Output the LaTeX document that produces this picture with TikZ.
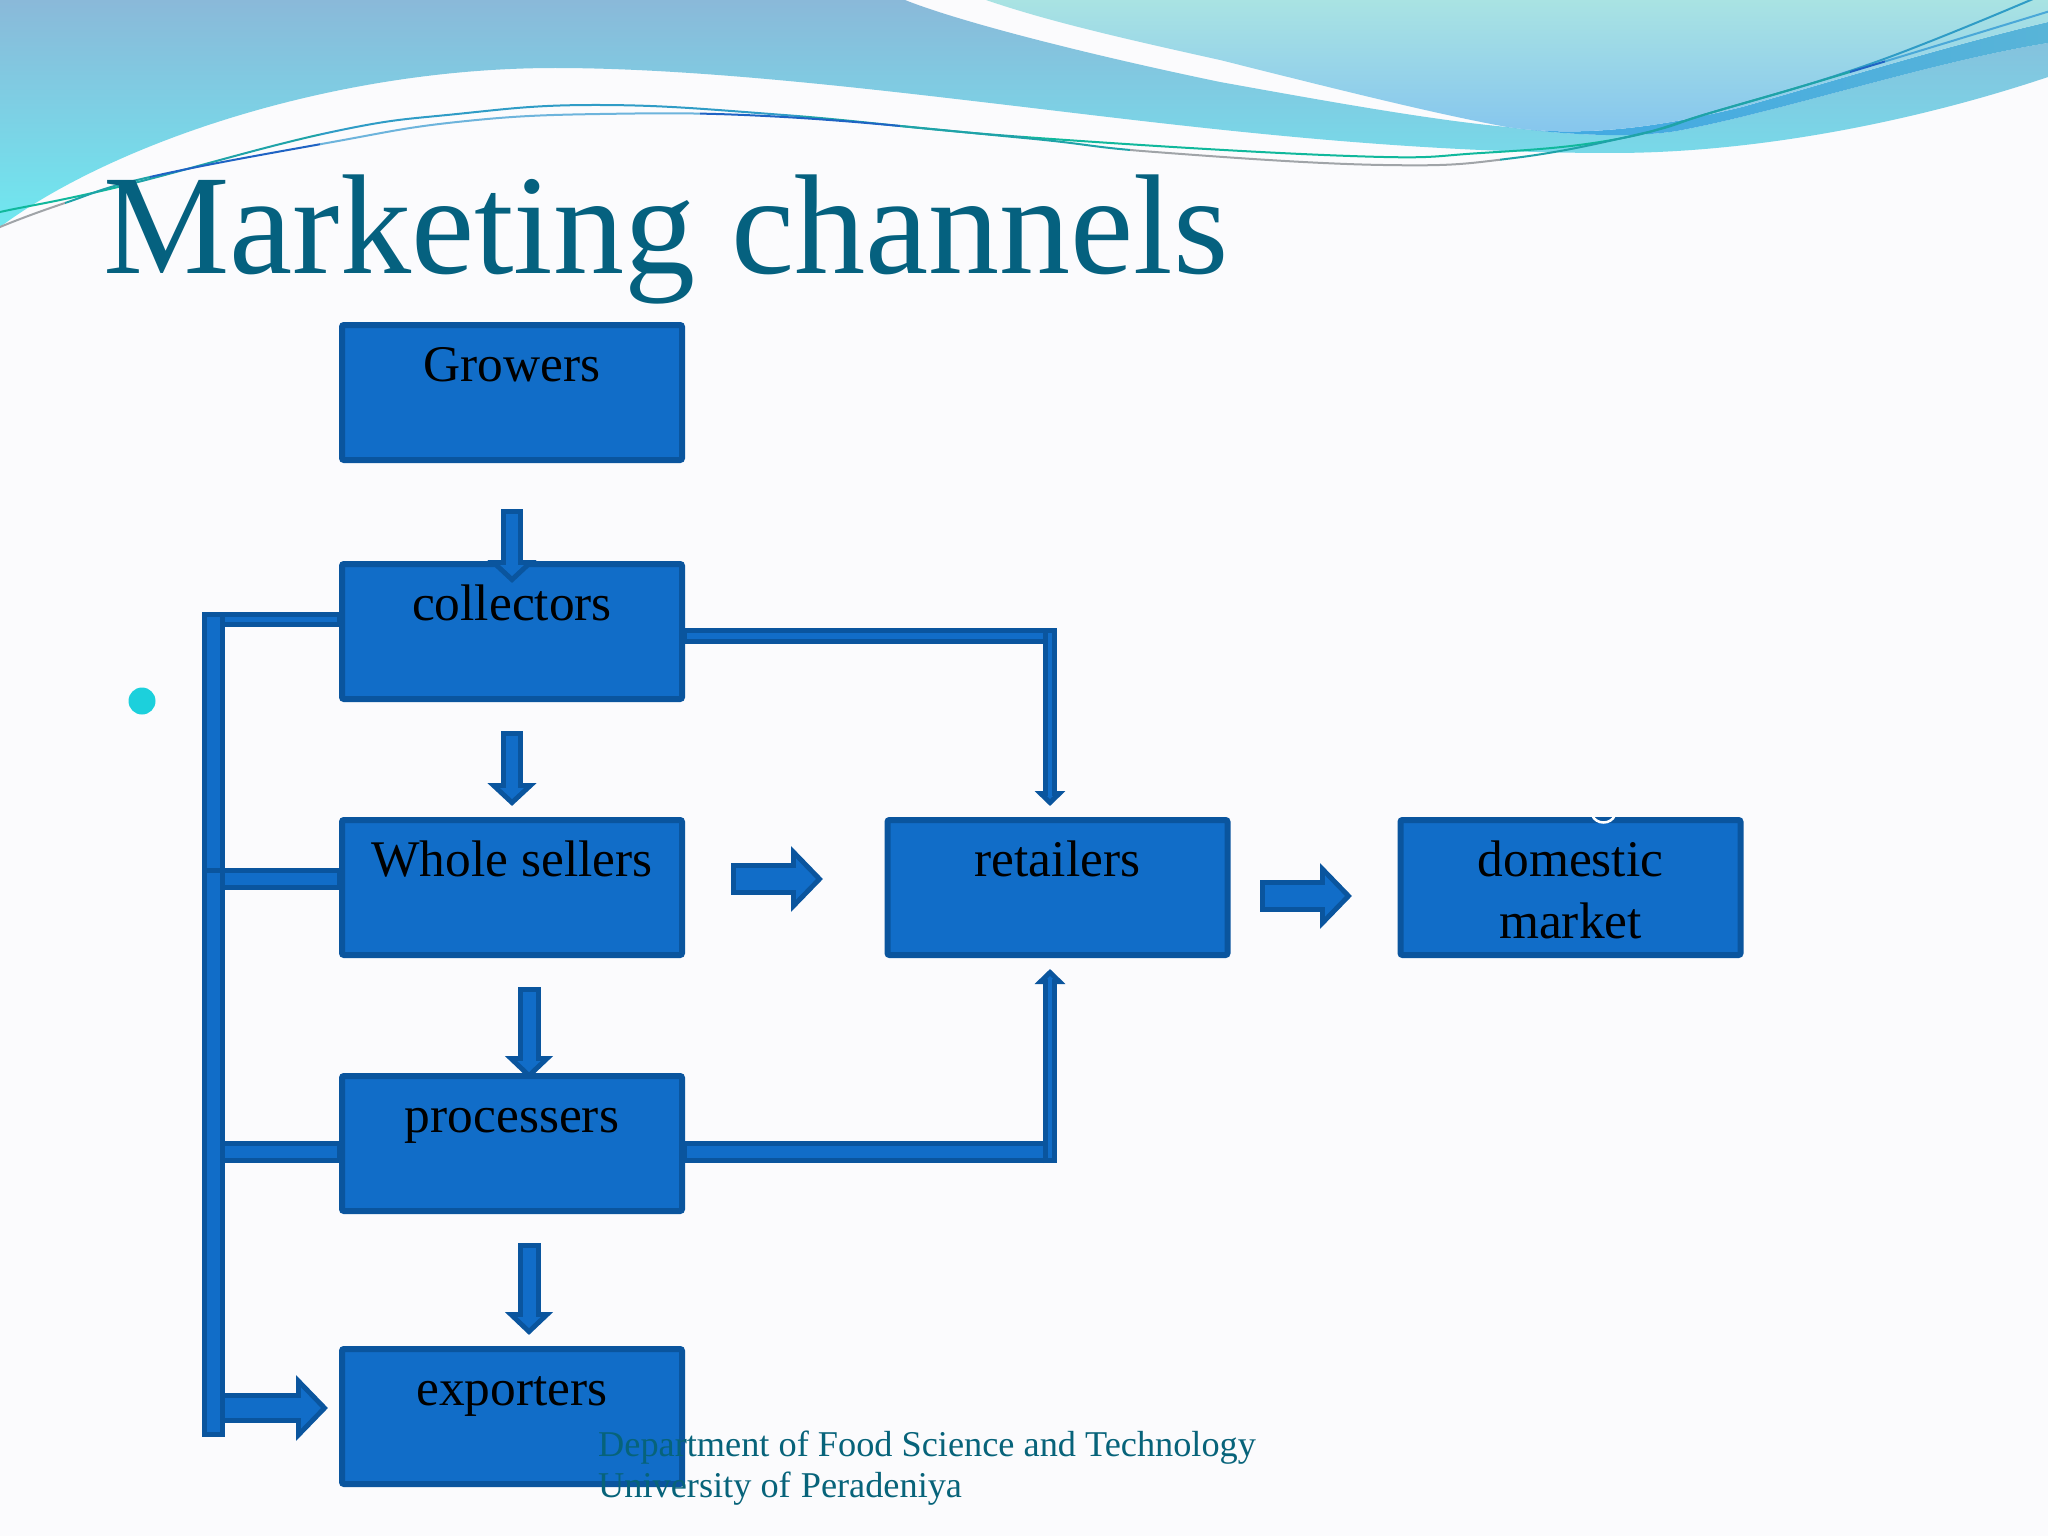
\documentclass[tikz,border=0pt]{standalone}
\usepackage{fontspec}
\setmainfont{Liberation Serif}
\usetikzlibrary{arrows.meta}
\definecolor{pagebg}{HTML}{FBFBFD}
\definecolor{boxfill}{HTML}{116DC8}
\definecolor{boxline}{HTML}{0A559E}
\definecolor{titlecol}{HTML}{05617F}
\definecolor{footcol}{HTML}{07637A}
\definecolor{bulletcol}{HTML}{1CD0DC}
\definecolor{lg}{HTML}{10B89C}
\definecolor{lt}{HTML}{1FA3A8}
\definecolor{lb}{HTML}{2F9CC6}
\definecolor{ld}{HTML}{1F63C4}
\definecolor{ll}{HTML}{6DB4DC}
\definecolor{lgr}{HTML}{A0A4A8}
\definecolor{lm}{HTML}{4AA8D8}
\definecolor{bandtop}{HTML}{8AB9D9}
\definecolor{bandbot}{HTML}{6FE8F0}
\definecolor{lobetop}{HTML}{A9E3E3}
\definecolor{lobebot}{HTML}{85C5EE}
\definecolor{stripl}{HTML}{3FA8E4}
\definecolor{stripr}{HTML}{58B4D8}
\tikzset{
  box/.style={draw=boxline,fill=boxfill,line width=6pt,rounded corners=2pt,
    minimum width=340pt,minimum height=135pt,inner sep=0pt,outer sep=0pt,
    font=\fontsize{51.4}{62}\selectfont,text=black},
  wave/.style={smooth,tension=0.7},
  footer/.style={anchor=base west,inner sep=0pt,text=footcol,font=\fontsize{36.3}{36.3}\selectfont},
}
% block arrow: border, shaft width, head width, head length, path
\newcommand{\blk}[5]{%
  \pgfmathsetmacro{\sina}{sin(atan((#3/2)/#4))}%
  \pgfmathsetmacro{\sh}{#1/\sina}%
  \pgfmathsetmacro{\la}{max(#4-#1-\sh,1)}%
  \pgfmathsetmacro{\wa}{\la*#3/#4}%
  \pgfmathsetmacro{\iw}{#2-2*#1}%
  \draw[line width=#2pt,draw=boxline,-{Triangle[length=#4pt,width=#3pt]}] #5;
  \draw[line width=\iw pt,draw=boxfill,shorten <=#1pt,shorten >=\sh pt,-{Triangle[length=\la pt,width=\wa pt]}] #5;
}
% plain bar: border, width, path
\newcommand{\plainbar}[3]{%
  \pgfmathsetmacro{\iw}{#2-2*#1}%
  \draw[line width=#2pt,draw=boxline] #3;
  \draw[line width=\iw pt,draw=boxfill,shorten <=#1pt,shorten >=#1pt] #3;
}
\newcommand{\boxtext}[1]{\parbox[c][135pt][t]{340pt}{\centering\rule{0pt}{56pt}#1}}
\newcommand{\lineA}{plot[wave] coordinates {(-10,216)(0,212)(118,187)(327,133)(457,114)(600,105)(784,115)(1024,137)(1350,156)(1481,153)(1612,140)(1710,113)(1873,63)(2040,-4)}}
\newcommand{\lineB}{plot[wave] coordinates {(-10,234)(0,227)(65,203)(150,177)(327,143)(457,122)(600,114)(784,117)(1024,138)(1155,152)(1383,165)(1514,158)(1644,133)(1710,113)(1840,75)(2060,8)}}
\begin{document}
\begin{tikzpicture}[x=1pt,y=-1pt]
\useasboundingbox (0,0) rectangle (2048,1536);
\fill[pagebg] (0,0) rectangle (2048,1536);
% wave band
\path[top color=bandtop,bottom color=bandbot]
  (0,0) -- (905,0) .. controls (960,22) and (1090,55) .. (1220,82)
  .. controls (1320,100) and (1430,120) .. (1507,127)
  .. controls (1580,137) and (1640,137) .. (1677,131)
  .. controls (1780,112) and (1930,62) .. (2048,43)
  -- (2048,77) .. controls (1920,120) and (1760,153) .. (1612,153)
  .. controls (1400,153) and (1200,128) .. (1024,107)
  .. controls (880,90) and (700,68) .. (555,68)
  .. controls (330,68) and (110,145) .. (0,227) -- cycle;
% darker strip
\path[left color=stripl,right color=stripr]
  (1507,127) .. controls (1570,136) and (1640,132) .. (1742,107)
  .. controls (1830,82) and (1950,45) .. (2048,22)
  -- (2048,43) .. controls (1930,62) and (1780,112) .. (1677,131)
  .. controls (1640,137) and (1580,137) .. (1507,127) -- cycle;
% top lobe
\path[top color=lobetop,bottom color=lobebot]
  (986,0) .. controls (1050,22) and (1130,40) .. (1220,60)
  .. controls (1320,85) and (1430,113) .. (1507,127)
  .. controls (1570,136) and (1640,132) .. (1742,107)
  .. controls (1830,82) and (1950,45) .. (2048,22)
  -- (2048,0) -- cycle;
% thin lines, coloured in stretches
\foreach \a/\b/\c in {-10/118/lg,118/320/lt,320/800/lb,800/1024/lt,1024/1620/lg,1620/1800/lt,1800/2050/lb}{
  \begin{scope}\clip (\a,-10) rectangle (\b,300);
  \draw[\c,line width=2pt] \lineA;
  \end{scope}}
\foreach \a/\b/\c in {-10/65/lgr,65/150/lt,150/320/ld,320/700/ll,700/900/ld,900/1130/lt,1130/1500/lgr,1500/1680/lt,1680/1850/lt,1850/1885/ld,1885/2050/lm}{
  \begin{scope}\clip (\a,-10) rectangle (\b,300);
  \draw[\c,line width=2pt] \lineB;
  \end{scope}}
% title
\node[anchor=base west,inner sep=0pt,text=titlecol,font=\fontsize{142.2}{142.2}\selectfont] (title) at (103,273) {Marketing channels};
% bullet
\fill[bulletcol] (142,701) circle (13.5);
% boxes
\node[box] (growers)    at (512,392.5)  {\boxtext{Growers}};
\node[box] (collectors) at (512,631.5)  {\boxtext{collectors}};
\node[box] (sellers)    at (512,887.5)  {\boxtext{Whole sellers}};
\node[box] (processers) at (512,1143.5) {\boxtext{processers}};
\node[box] (exporters)  at (512,1416.5) {\boxtext{exporters}};
\node[box] (retailers)  at (1057.5,887.5) {\boxtext{retailers}};
\node[box] (domestic)   at (1570.5,887.5) {\boxtext{domestic\\market}};
% fragment of white text over the domestic box
\draw[white,line width=2.5pt] (1592,815) .. controls (1596,825) and (1611,825) .. (1615,815);
% named connector ends
\coordinate (a1s) at (512,509);  \coordinate (a1e) at (512,583);
\coordinate (a2s) at (512,731);  \coordinate (a2e) at (512,806);
\coordinate (a3s) at (529,987);  \coordinate (a3e) at (529,1079);
\coordinate (a4s) at (529,1243); \coordinate (a4e) at (529,1335);
\coordinate (a5s) at (731,879);  \coordinate (a5e) at (823,879);
\coordinate (a6s) at (1260,896); \coordinate (a6e) at (1352,896);
\coordinate (a7s) at (212,1408); \coordinate (a7e) at (328,1408);
\coordinate (upH) at (1057,636); \coordinate (upC) at (1050,628);
\coordinate (upE) at (1050,806);
\coordinate (loH) at (1057,1152);\coordinate (loC) at (1050,1163);
\coordinate (loE) at (1050,969);
\coordinate (busT) at (213.5,612);\coordinate (busB) at (213.5,1437);
\coordinate (bc) at (202,619.5); \coordinate (bs) at (202,879); \coordinate (bp) at (202,1152);
% side branches, then the bus
\plainbar{5}{15}{(bc) -- (collectors.west |- bc)}
\plainbar{5}{22}{(bs) -- (sellers.west |- bs)}
\plainbar{5}{22}{(bp) -- (processers.west |- bp)}
\blk{5}{30}{64}{32}{(a7s) -- (a7e)}
\plainbar{5}{23}{(busT) -- (busB)}
\fill[boxline] (202,868) rectangle (225,873);
% block arrows
\blk{5}{22}{48}{23}{(a1s) -- (a1e)}
\blk{5}{22}{48}{23}{(a2s) -- (a2e)}
\blk{5}{23}{47}{23}{(a3s) -- (a3e)}
\blk{5}{23}{47}{23}{(a4s) -- (a4e)}
\blk{5}{32}{64}{32}{(a5s) -- (a5e)}
\blk{5}{32}{64}{32}{(a6s) -- (a6e)}
% elbow connectors to the retailers
\plainbar{5}{16}{(collectors.east |- upH) -- (upH)}
\blk{5}{14}{30}{15}{(upC) -- (upE)}
\plainbar{5}{22}{(processers.east |- loH) -- (loH)}
\blk{5}{14}{30}{15}{(loC) -- (loE)}
% footer
\node[footer] (dept) at (598,1456) {Department of Food Science and Technology};
\node[footer] (univ) at (598,1497) {University of\ \hspace{1pt}Peradeniya};
\end{tikzpicture}
\end{document}
